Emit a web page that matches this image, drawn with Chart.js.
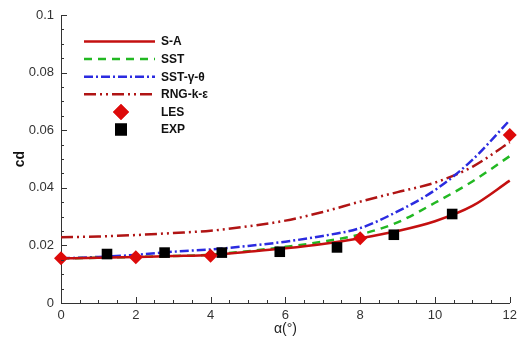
<!DOCTYPE html>
<html><head><meta charset="utf-8">
<script src="https://cdn.jsdelivr.net/npm/chart.js@4.4.1/dist/chart.umd.min.js"></script>
<style>html,body{margin:0;padding:0;background:#fff}#wrap{width:522px;height:340px}</style>
</head><body><div id="wrap"><canvas id="c" width="522" height="340"></canvas></div>
<script>
const alphaCurve = [0,1,2,3,4,5,6,7,8,9,10,11,12];
const cdSA  = [0.0155,0.0157,0.0160,0.0163,0.0167,0.0178,0.0190,0.0205,0.0225,0.0250,0.0284,0.0337,0.0425];
const cdSST = [0.0155,0.0157,0.0160,0.0163,0.0168,0.0180,0.0195,0.0213,0.0238,0.0280,0.0348,0.0422,0.0510];
const cdSSTgt = [0.0155,0.0160,0.0167,0.0178,0.0186,0.0198,0.0213,0.0233,0.0260,0.0318,0.0392,0.0497,0.0635];
const cdRNG = [0.0228,0.0231,0.0236,0.0243,0.0251,0.0266,0.0286,0.0316,0.0352,0.0385,0.0418,0.0473,0.0558];
const alphaLES = [0,2,4,8,12];
const cdLES = [0.0155,0.0159,0.0164,0.0225,0.0583];
const alphaEXP = [1.23,2.77,4.30,5.85,7.38,8.90,10.46];
const cdEXP = [0.0170,0.0175,0.0175,0.0178,0.0193,0.0237,0.0309];
const xTickLabels = ['0','2','4','6','8','10','12'];
const yTickLabels = ['0','0.02','0.04','0.06','0.08','0.1'];
const legendLabels = ['S-A','SST','SST-γ-θ','RNG-k-ε','LES','EXP'];

const pts = (xs, ys) => xs.map((x,i)=>({x:x, y:ys[i]}));
const lineDS = (label, ys, color, dash) => ({
  label, data: pts(alphaCurve, ys), borderColor: color, backgroundColor: color,
  borderWidth: 2.5, borderDash: dash, pointRadius: 0, showLine: true,
  cubicInterpolationMode: 'monotone', order: 2, clip: false
});

const datasets = [
  lineDS(legendLabels[0], cdSA, '#c41010', []),
  lineDS(legendLabels[1], cdSST, '#22b822', [8,6]),
  lineDS(legendLabels[2], cdSSTgt, '#2b2be0', [9,3,2,3]),
  lineDS(legendLabels[3], cdRNG, '#b01414', [12,4,2,4,2,4]),
  {label: legendLabels[4], data: pts(alphaLES, cdLES), showLine:false, pointStyle:'rectRot',
   pointRadius: 7, backgroundColor:'#dd0a0a', borderColor:'#dd0a0a', borderWidth:0, order:0, clip:false},
  {label: legendLabels[5], data: pts(alphaEXP, cdEXP), showLine:false, pointStyle:'rect',
   pointRadius: 7.5, backgroundColor:'#000', borderColor:'#000', borderWidth:0, order:1, clip:false}
];

const tickPlugin = {
  id: 'inwardTicks',
  afterDraw(chart) {
    const ctx = chart.ctx, ca = chart.chartArea;
    const xs = chart.scales.x, ys = chart.scales.y;
    ctx.save();
    ctx.strokeStyle = '#333'; ctx.lineWidth = 1;
    ctx.beginPath();
    for (let v = 0; v <= 12.0001; v += 0.5) {
      const px = Math.round(xs.getPixelForValue(v)) + 0.5;
      const major = Math.abs(v/2 - Math.round(v/2)) < 1e-6;
      ctx.moveTo(px, ca.bottom); ctx.lineTo(px, ca.bottom - (major ? 6 : 3));
    }
    for (let i = 0; i <= 20; i++) {
      const v = i * 0.005;
      const py = Math.round(ys.getPixelForValue(v)) + 0.5;
      const major = i % 4 === 0;
      ctx.moveTo(ca.left, py); ctx.lineTo(ca.left + (major ? 6 : 3), py);
    }
    ctx.stroke();
    // legend
    const x0 = 84, x1 = 155, tx = 161, y0 = 41.5, dy = 17.6;
    ctx.font = 'bold 12px "Liberation Sans", Arial, sans-serif';
    ctx.textBaseline = 'middle'; ctx.textAlign = 'left';
    chart.data.datasets.forEach((ds, i) => {
      const y = y0 + i * dy;
      if (ds.showLine) {
        ctx.save();
        ctx.strokeStyle = ds.borderColor; ctx.lineWidth = 2.5;
        ctx.setLineDash(ds.borderDash || []);
        ctx.beginPath(); ctx.moveTo(x0, y); ctx.lineTo(x1, y); ctx.stroke();
        ctx.restore();
      } else {
        ctx.save();
        ctx.fillStyle = ds.backgroundColor;
        Chart.helpers.drawPoint(ctx, {pointStyle: ds.pointStyle, radius: ds.pointRadius + 1, rotation: 0, borderWidth: 0}, 121, y);
        ctx.fill();
        ctx.restore();
      }
      ctx.fillStyle = '#111';
      ctx.fillText(ds.label, tx, y + 0.5);
    });
    ctx.restore();
  }
};

new Chart(document.getElementById('c'), {
  type: 'line',
  data: { datasets },
  options: {
    responsive: false, animation: false,
    layout: { padding: { top: 15, right: 9, left: 0, bottom: 0 } },
    plugins: { legend: { display: false }, tooltip: { enabled: false } },
    scales: {
      x: {
        type: 'linear', min: 0, max: 12,
        afterFit(s) { s.height = 37; },
        grid: { display: false, drawTicks: false },
        border: { display: true, color: '#333', width: 1 },
        ticks: { stepSize: 2, padding: 5, color: '#333', font: { size: 13, family: '"Liberation Sans", Arial, sans-serif' },
          callback: (v) => { const i = Math.round(v/2); return Math.abs(v - i*2) < 1e-6 ? xTickLabels[i] : ''; } },
        title: { display: true, text: 'α(°)', color: '#222', padding: { top: 0, bottom: 2 },
          font: { size: 14, family: '"Liberation Sans", Arial, sans-serif' } }
      },
      y: {
        type: 'linear', min: 0, max: 0.1,
        afterFit(s) { s.width = 61; },
        grid: { display: false, drawTicks: false },
        border: { display: true, color: '#333', width: 1 },
        ticks: { stepSize: 0.02, padding: 7, color: '#333', font: { size: 13, family: '"Liberation Sans", Arial, sans-serif' },
          callback: (v) => { const i = Math.round(v/0.02); return Math.abs(v - i*0.02) < 1e-9 ? yTickLabels[i] : ''; } },
        title: { display: true, text: 'cd', color: '#111', padding: { top: 12, bottom: 0 },
          font: { size: 14, weight: 'bold', family: '"Liberation Sans", Arial, sans-serif' } }
      }
    }
  },
  plugins: [tickPlugin]
});
</script></body></html>
